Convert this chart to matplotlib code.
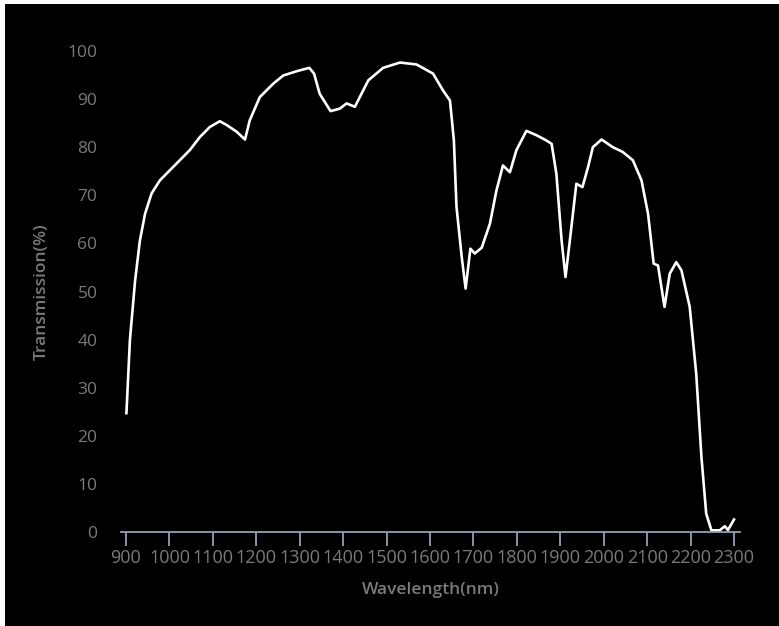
import matplotlib.pyplot as plt
from matplotlib.patches import Rectangle

# transmission spectrum
wavelength = [901, 909, 921, 932, 944, 959, 978, 1001, 1024, 1047, 1070, 1093,
              1116, 1132, 1155, 1174, 1185, 1208, 1239, 1262, 1293, 1322, 1333,
              1346, 1371, 1392, 1408, 1427, 1458, 1492, 1531, 1569, 1607, 1630,
              1646, 1655, 1661, 1673, 1682, 1693, 1703, 1719, 1738, 1753, 1768,
              1784, 1799, 1822, 1845, 1868, 1880, 1891, 1903, 1912, 1922, 1937,
              1951, 1964, 1975, 1995, 2021, 2044, 2067, 2087, 2102, 2115, 2125,
              2140, 2152, 2167, 2179, 2198, 2213, 2225, 2236, 2248, 2267, 2279,
              2286, 2300]
transmission = [24.7, 39.9, 52.3, 60.6, 66.2, 70.4, 73.1, 75.2, 77.3, 79.4, 82.1,
                84.2, 85.4, 84.6, 83.2, 81.6, 85.6, 90.4, 93.2, 94.9, 95.8, 96.5,
                95.3, 91.1, 87.5, 88.0, 89.1, 88.4, 93.9, 96.5, 97.6, 97.2, 95.3,
                91.8, 89.7, 81.4, 67.6, 57.2, 50.6, 58.9, 57.9, 59.1, 64.1, 71.0,
                76.2, 74.8, 79.4, 83.4, 82.5, 81.4, 80.7, 74.5, 60.6, 53.0, 60.6,
                72.4, 71.7, 75.9, 80.0, 81.6, 80.0, 79.0, 77.3, 73.1, 66.2, 55.8,
                55.4, 46.8, 53.7, 56.1, 54.4, 46.8, 32.9, 15.6, 3.8, 0.35, 0.35,
                1.2, 0.4, 2.6]

x_ticks = list(range(900, 2301, 100))
y_ticks = list(range(0, 101, 10))

fig = plt.figure(figsize=(7.79, 6.26), dpi=100, facecolor='white')
fig.patches.append(Rectangle((5 / 779, 0), 1, 1 - 4 / 626, transform=fig.transFigure,
                             facecolor='black', edgecolor='none', zorder=-5))

ax = fig.add_axes([121 / 779, 1 - 532 / 626, (740 - 121) / 779, (532 - 51) / 626])
ax.set_zorder(1)
ax.patch.set_alpha(0)
ax.plot(wavelength, transmission, color='white', lw=1.9, solid_joinstyle='round',
        clip_on=False)

ax.set_xlim(888.5, 2313.8)
ax.set_ylim(0, 100)
ax.set_xticks(x_ticks)
ax.set_yticks(y_ticks)

for s in ['top', 'right', 'left']:
    ax.spines[s].set_visible(False)
ax.spines['bottom'].set_color('#8fa2b4')
ax.spines['bottom'].set_linewidth(1.3)

ax.tick_params(axis='x', direction='out', length=10, width=1.3, color='#8fa2b4',
               pad=2, labelsize=13, labelcolor='#7a7a7a')
ax.tick_params(axis='y', length=0, pad=17, labelsize=12.5, labelcolor='#7a7a7a')
for lab in ax.get_xticklabels() + ax.get_yticklabels():
    lab.set_family('Open Sans')

ax.set_xlabel('Wavelength(nm)', family='Open Sans', fontsize=12.5, fontweight='semibold',
              color='#7a7a7a', labelpad=11)
ax.set_ylabel('Transmission(%)', family='Open Sans', fontsize=12.5, fontweight='semibold',
              color='#7a7a7a', labelpad=13)

fig.savefig('out.png', dpi=100, facecolor='white')
